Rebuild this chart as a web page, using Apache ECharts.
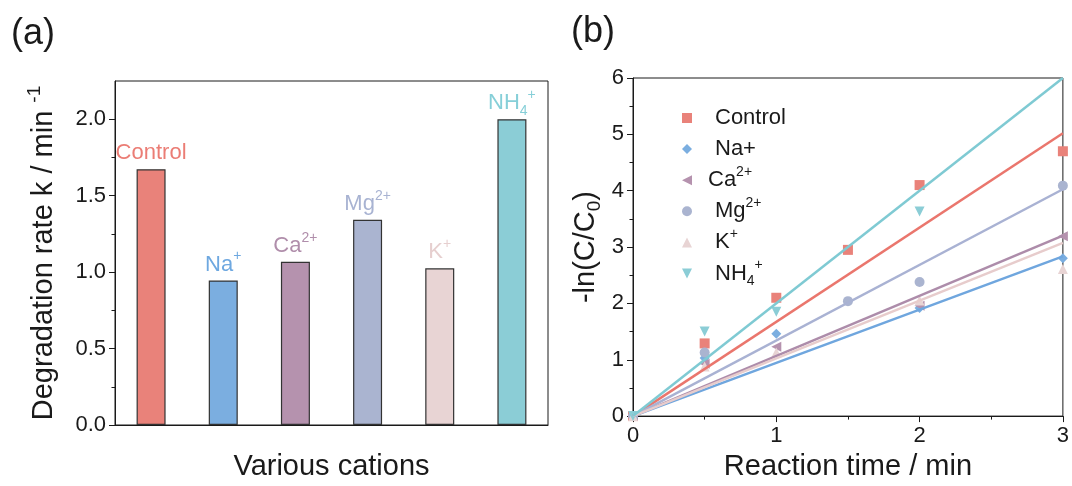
<!DOCTYPE html>
<html>
<head>
<meta charset="utf-8">
<script src="https://cdn.jsdelivr.net/npm/echarts@6/dist/echarts.min.js"></script>
<style>
  html, body { margin: 0; padding: 0; background: #ffffff; }
  #chart { width: 1072px; height: 486px; }
</style>
</head>
<body>
<div id="chart"></div>
<script>
// Cation types and their pseudo-first-order rate constants k (min^-1)
const cations = ['Control', 'Na+', 'Ca2+', 'Mg2+', 'K+', 'NH4+'];
const rateK = [1.673, 0.945, 1.068, 1.342, 1.025, 2.0];

// Kinetic data: -ln(C/C0) against reaction time (min)
const times = [0, 0.5, 1, 1.5, 2, 3];
const lnControl = [0, 1.29, 2.10, 2.95, 4.10, 4.70];
const lnNa = [0, 1.03, 1.46, null, 1.92, 2.80];
const lnCa = [0, 0.93, 1.23, null, 1.96, 3.19];
const lnMg = [0, 1.13, null, 2.04, 2.38, 4.09];
const lnK = [0, 0.88, 1.13, null, 2.05, 2.61];
const lnNH4 = [0, 1.50, 1.85, null, 3.63, null];

// Tick values
const rateTicks = [0, 0.5, 1.0, 1.5, 2.0];
const rateMinorTicks = [0.25, 0.75, 1.25, 1.75];
const timeTicks = [0, 1, 2, 3];

const FONT = 'Liberation Sans, Arial, Helvetica, sans-serif';
const INK = '#1a1a1a';

const fillColors = ['#E9827A', '#7BAEE0', '#B592AE', '#AAB4D0', '#E8D4D4', '#8BCDD6'];
const labelColors = ['#EB7D75', '#6EA8E0', '#B08EAB', '#A8B3D2', '#E6CFCF', '#86CFD8'];
const lineColors = ['#EA766D', '#6FA6DE', '#AD8CAA', '#A9B2D3', '#E7CCCC', '#7FCAD3'];
const symbols = [
  'rect',
  'diamond',
  'path://M0,5 L10,0 L10,10 Z',
  'circle',
  'triangle',
  'path://M0,0 L10,0 L5,10 Z'
];

// Rich-text forms of the ion names (superscript charge, subscript count)
const barLabelText = {
  'Control': '{b|Control}',
  'Na+': '{b|Na}{sup|+}',
  'Ca2+': '{b|Ca}{sup|2+}',
  'Mg2+': '{b|Mg}{sup|2+}',
  'K+': '{b|K}{sup|+}',
  'NH4+': '{b|NH}{sub|4}{sup|+}'
};
const legendText = {
  'Control': '{b|Control}{sup| }',
  'Na+': '{b|Na+}{sup| }',
  'Ca2+': '{bc|Ca}{sup|2+}',
  'Mg2+': '{b|Mg}{sup|2+}',
  'K+': '{b|K}{sup|+}',
  'NH4+': '{b|NH}{sub|4}{sup|+}'
};

const ionRich = {
  b: { fontSize: 22, lineHeight: 30, fontFamily: FONT },
  sup: { fontSize: 14, lineHeight: 10, verticalAlign: 'top', fontFamily: FONT },
  sub: { fontSize: 14, lineHeight: 10, verticalAlign: 'bottom', fontFamily: FONT }
};
const legendRich = {
  b: { fontSize: 22, lineHeight: 30, fontFamily: FONT, padding: [0, 0, 0, 18] },
  bc: { fontSize: 22, lineHeight: 30, fontFamily: FONT, padding: [0, 0, 0, 11] },
  sup: { fontSize: 14, lineHeight: 10, verticalAlign: 'top', fontFamily: FONT },
  sub: { fontSize: 14, lineHeight: 10, verticalAlign: 'bottom', fontFamily: FONT }
};

const chart = echarts.init(document.getElementById('chart'), null, { renderer: 'canvas' });

const barData = rateK.map((v, i) => ({
  value: v,
  itemStyle: { color: fillColors[i] },
  label: { color: labelColors[i] }
}));

const scatterSeries = cations.map((name, i) => {
  const values = [lnControl, lnNa, lnCa, lnMg, lnK, lnNH4][i];
  const pts = [];
  times.forEach((t, j) => { if (values[j] !== null) pts.push([t, values[j]]); });
  return {
    name: name,
    type: 'scatter',
    xAxisIndex: 1,
    yAxisIndex: 2,
    symbol: symbols[i],
    symbolSize: 10,
    symbolKeepAspect: true,
    itemStyle: { color: fillColors[i], opacity: 1 },
    data: pts,
    z: 2
  };
});

// First-order fit lines: -ln(C/C0) = k t
const tEnd = timeTicks[timeTicks.length - 1];
const fitSeries = cations.map((name, i) => ({
  name: name + ' fit',
  type: 'line',
  xAxisIndex: 1,
  yAxisIndex: 2,
  showSymbol: false,
  silent: true,
  lineStyle: { color: lineColors[i], width: 2.5 },
  data: [[timeTicks[0], 0], [tEnd, rateK[i] * tEnd]],
  z: 3
}));

const option = {
  backgroundColor: '#ffffff',
  animation: false,
  textStyle: { fontFamily: FONT, color: INK },
  graphic: [
    { type: 'text', left: 11, top: 16, style: { text: '(a)', font: '36px ' + FONT, fill: INK } },
    { type: 'text', left: 571, top: 14, style: { text: '(b)', font: '36px ' + FONT, fill: INK } }
  ],
  grid: [
    { left: 115, top: 81, width: 433, height: 347, show: true, borderColor: INK, borderWidth: 1, backgroundColor: 'transparent' },
    { left: 633, top: 78, width: 432, height: 349, show: true, borderColor: INK, borderWidth: 1, backgroundColor: 'transparent' }
  ],
  legend: {
    orient: 'vertical',
    left: 677,
    top: 98,
    itemWidth: 10,
    itemHeight: 10,
    itemGap: 5.1,
    data: cations,
    formatter: name => legendText[name],
    textStyle: { fontSize: 22, color: INK, fontFamily: FONT, rich: legendRich },
    selectedMode: false
  },
  xAxis: [
    {
      type: 'category',
      gridIndex: 0,
      data: cations,
      boundaryGap: true,
      axisLine: { lineStyle: { color: INK, width: 1 } },
      axisTick: { show: false },
      axisLabel: { show: false },
      name: 'Various cations',
      nameLocation: 'middle',
      nameGap: 27,
      nameTextStyle: { fontSize: 29, color: INK, fontFamily: FONT }
    },
    {
      type: 'value',
      gridIndex: 1,
      min: 0,
      max: 3,
      interval: 1,
      axisLine: { lineStyle: { color: INK, width: 1 } },
      axisTick: { show: true, inside: false, length: 6, lineStyle: { color: INK } },
      minorTick: { show: true, splitNumber: 2, length: 3.5, lineStyle: { color: INK } },
      splitLine: { show: false },
      axisLabel: { fontSize: 22, color: INK, margin: 9, fontFamily: FONT },
      name: 'Reaction time / min',
      nameLocation: 'middle',
      nameGap: 27,
      nameTextStyle: { fontSize: 29, color: INK, fontFamily: FONT }
    }
  ],
  yAxis: [
    {
      type: 'value',
      gridIndex: 0,
      min: 0,
      max: 2.25,
      interval: 0.5,
      axisLine: { show: true, lineStyle: { color: INK, width: 1 } },
      axisTick: { show: true, inside: false, length: 6, customValues: rateTicks, lineStyle: { color: INK } },
      splitLine: { show: false },
      axisLabel: {
        fontSize: 22, color: INK, margin: 9, fontFamily: FONT,
        customValues: rateTicks,
        formatter: v => v.toFixed(1)
      },
      name: '{b|Degradation rate k / min }{sup|-1}',
      nameLocation: 'middle',
      nameRotate: 90,
      nameGap: 52,
      nameTextStyle: {
        color: INK,
        rich: {
          b: { fontSize: 29, lineHeight: 38, fontFamily: FONT, color: INK },
          sup: { fontSize: 19, lineHeight: 18, verticalAlign: 'top', fontFamily: FONT, color: INK }
        }
      }
    },
    {
      // short ticks between the labelled values
      type: 'value',
      gridIndex: 0,
      min: 0,
      max: 2.25,
      interval: 0.25,
      axisLine: { show: false },
      axisTick: { show: true, inside: false, length: 3.5, customValues: rateMinorTicks, lineStyle: { color: INK } },
      axisLabel: { show: false },
      splitLine: { show: false },
      position: 'left'
    },
    {
      type: 'value',
      gridIndex: 1,
      min: 0,
      max: 6,
      interval: 1,
      axisLine: { show: true, lineStyle: { color: INK, width: 1 } },
      axisTick: { show: true, inside: false, length: 6, lineStyle: { color: INK } },
      minorTick: { show: true, splitNumber: 2, length: 3.5, lineStyle: { color: INK } },
      splitLine: { show: false },
      axisLabel: { fontSize: 22, color: INK, margin: 9, fontFamily: FONT },
      name: '{b|-ln(C/C}{sub|0}{b|)}',
      nameLocation: 'middle',
      nameRotate: 90,
      nameGap: 29,
      nameTextStyle: {
        color: INK,
        rich: {
          b: { fontSize: 29, lineHeight: 36, fontFamily: FONT, color: INK },
          sub: { fontSize: 19, lineHeight: 18, verticalAlign: 'bottom', fontFamily: FONT, color: INK }
        }
      }
    }
  ],
  series: [
    {
      name: 'rate',
      type: 'bar',
      xAxisIndex: 0,
      yAxisIndex: 0,
      barWidth: 29,
      data: barData,
      itemStyle: { borderColor: '#333333', borderWidth: 1.2 },
      label: {
        show: true,
        position: 'top',
        distance: 1,
        fontSize: 22,
        fontFamily: FONT,
        formatter: p => barLabelText[p.name],
        rich: ionRich
      },
      silent: true
    },
    ...scatterSeries,
    ...fitSeries
  ]
};

chart.setOption(option);
</script>
</body>
</html>
